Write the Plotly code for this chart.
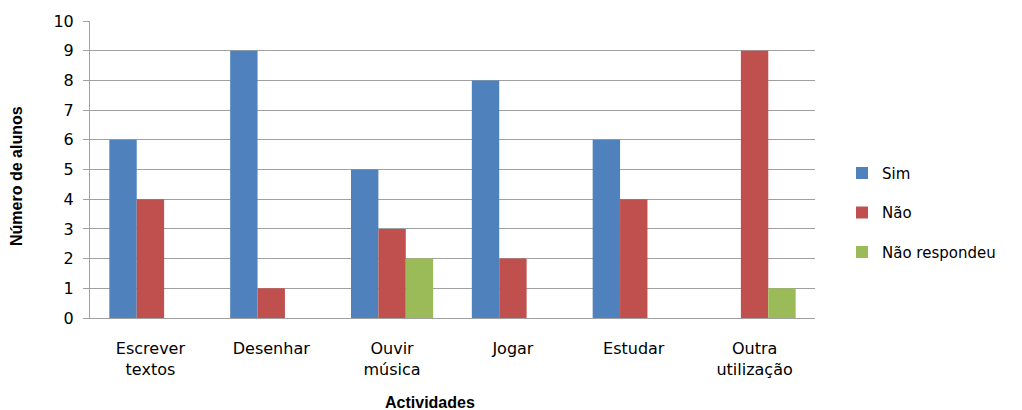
import plotly.graph_objects as go

categories = ["Escrever<br>textos", "Desenhar", "Ouvir<br>música", "Jogar", "Estudar", "Outra<br>utilização"]
sim = [6, 9, 5, 8, 6, 0]
nao = [4, 1, 3, 2, 4, 9]
nao_respondeu = [0, 0, 2, 0, 0, 1]
y_ticks = list(range(0, 11))

FONT = "DejaVu Sans"
TITLE_FONT = "Liberation Sans"

fig = go.Figure()
fig.add_bar(name="Sim", x=categories, y=sim, legendgroup="a",
            marker=dict(color="#4f81bd", line=dict(width=0)))
fig.add_bar(name="Não", x=categories, y=nao, legendgroup="b",
            marker=dict(color="#c0504d", line=dict(width=0)))
fig.add_bar(name="Não respondeu", x=categories, y=nao_respondeu, legendgroup="c",
            marker=dict(color="#9bbb59", line=dict(width=0)))

plot_w = 1022 - 90 - 207
plot_h = 410 - 19 - 92

fig.update_layout(
    width=1022, height=410,
    margin=dict(l=90, r=207, t=19, b=92),
    barmode="group", bargap=0.32, bargroupgap=0,
    plot_bgcolor="white", paper_bgcolor="white",
    font=dict(family=FONT, size=15, color="#000000"),
    showlegend=True,
    legend=dict(x=(842 - 90) / plot_w, y=(318 - 212) / plot_h,
                xanchor="left", yanchor="middle",
                font=dict(family=FONT, size=15), tracegroupgap=17,
                itemsizing="constant", itemwidth=30),
    xaxis=dict(showgrid=False, showline=True, linecolor="#a0a0a0", linewidth=1,
               ticks="", tickfont=dict(family=FONT, size=16), ticklabelstandoff=16),
    yaxis=dict(range=[0, 10], tickvals=y_ticks, showgrid=True, gridcolor="#a0a0a0",
               gridwidth=1, showline=True, linecolor="#a0a0a0", linewidth=1,
               ticks="outside", ticklen=6, tickcolor="#a0a0a0",
               tickfont=dict(family=FONT, size=16), ticklabelstandoff=6,
               zeroline=False),
    annotations=[
        dict(text="<b>Número de alunos</b>", xref="paper", yref="paper",
             x=(17 - 90) / plot_w, y=(318 - 175) / plot_h,
             xanchor="center", yanchor="middle",
             showarrow=False, textangle=-90, font=dict(family=TITLE_FONT, size=16)),
        dict(text="<b>Actividades</b>", xref="paper", yref="paper",
             x=(430 - 90) / plot_w, y=(318 - 403) / plot_h,
             xanchor="center", yanchor="middle",
             showarrow=False, font=dict(family=TITLE_FONT, size=16)),
    ],
)

fig.write_html("out.html")
